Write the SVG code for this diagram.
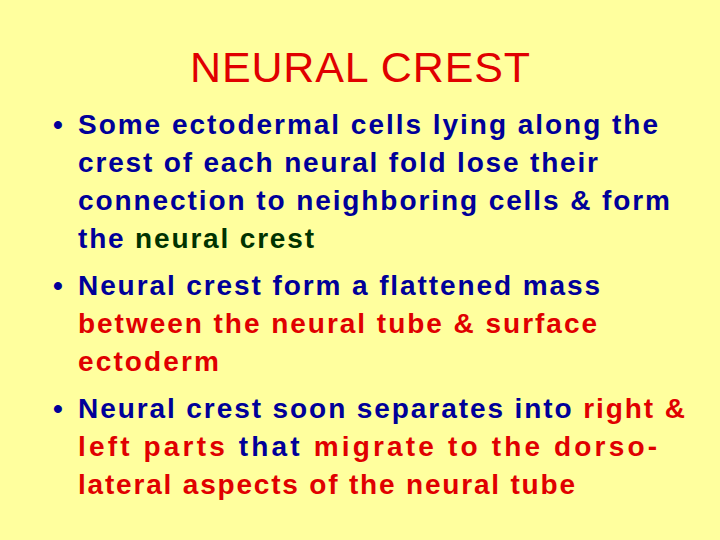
<svg xmlns="http://www.w3.org/2000/svg" width="720" height="540" viewBox="0 0 720 540">
<style>
text{font-family:"Liberation Sans",Arial,sans-serif}
.b{font-size:28px;font-weight:bold;fill:#000099}
.g{fill:#003300}
.r{fill:#E00000}
</style>
<rect width="720" height="540" fill="#FFFF9E"/>
<text x="360" y="82" text-anchor="middle" font-size="43" fill="#E00000" textLength="340">NEURAL CREST</text>
<g class="b">
<text x="53" y="134">•</text>
<text x="78" y="134" textLength="580">Some ectodermal cells lying along the</text>
<text x="78" y="172" textLength="520">crest of each neural fold lose their</text>
<text x="78" y="210" textLength="592">connection to neighboring cells &amp; form</text>
<text x="78" y="248" textLength="236">the <tspan class="g">neural crest</tspan></text>
<text x="53" y="295">•</text>
<text x="78" y="295" textLength="522">Neural crest form a flattened mass</text>
<text x="78" y="333" class="r" textLength="519">between the neural tube &amp; surface</text>
<text x="78" y="371" class="r" textLength="141">ectoderm</text>
<text x="53" y="418">•</text>
<text x="78" y="418" textLength="607">Neural crest soon separates into <tspan class="r">right &amp;</tspan></text>
<text x="78" y="456" textLength="579"><tspan class="r">left parts</tspan> that <tspan class="r">migrate to the dorso-</tspan></text>
<text x="78" y="494" class="r" textLength="497">lateral aspects of the neural tube</text>
</g>
</svg>
